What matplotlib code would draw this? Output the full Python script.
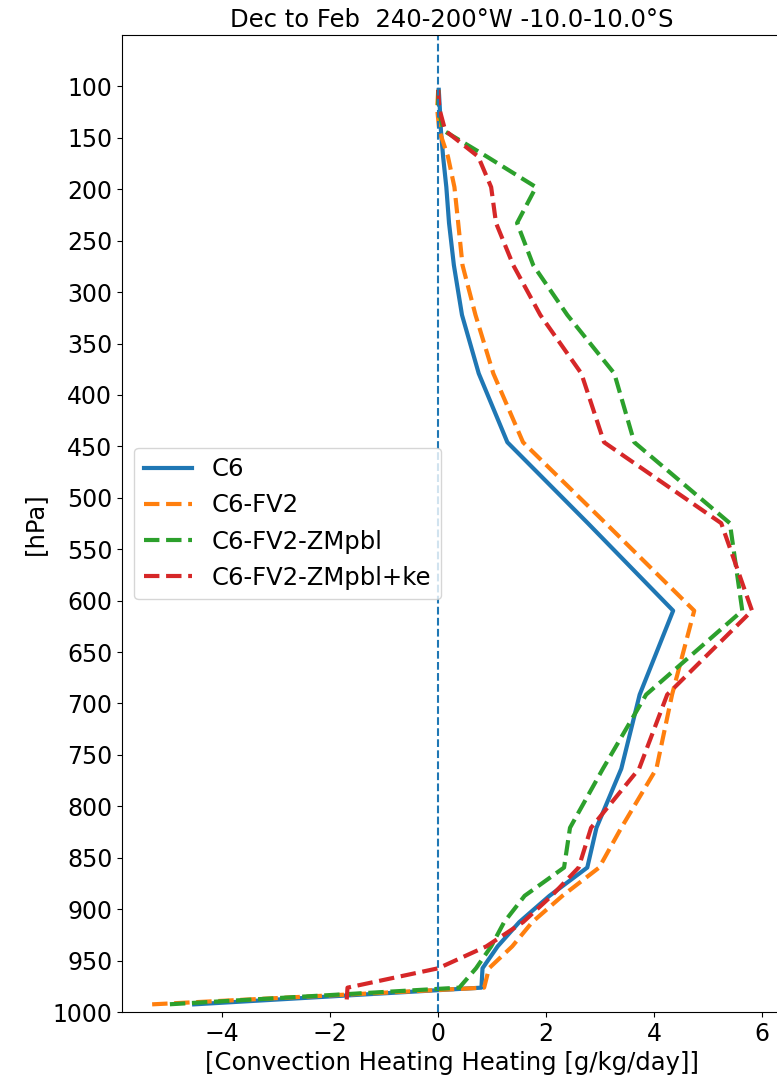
"""Vertical profile of convective heating, DJF, tropical box 240-200W."""

import matplotlib

matplotlib.use("Agg")
import matplotlib.pyplot as plt

# model mid-level pressures [hPa]
lev = [103.32, 121.55, 142.99, 168.23, 197.91, 232.83, 273.91, 322.24,
       379.10, 445.99, 524.69, 609.78, 691.39, 763.40, 820.86, 859.53,
       887.02, 912.64, 936.20, 957.49, 976.33, 992.56]

c6 = [0.01, 0.03, 0.05, 0.09, 0.15, 0.20, 0.29, 0.44,
      0.75, 1.28, 2.77, 4.35, 3.73, 3.39, 2.93, 2.76,
      2.06, 1.50, 1.10, 0.82, 0.80, -4.52]
c6_fv2 = [0.0, -0.02, 0.02, 0.18, 0.30, 0.37, 0.45, 0.69,
          1.02, 1.57, 3.10, 4.74, 4.33, 4.04, 3.39, 2.98,
          2.30, 1.74, 1.37, 0.94, 0.85, -5.30]
c6_fv2_zmpbl = [0.0, 0.0, 0.10, 0.90, 1.81, 1.46, 1.76, 2.39,
                3.26, 3.63, 5.40, 5.63, 3.85, 3.05, 2.44, 2.33,
                1.60, 1.22, 0.98, 0.70, 0.39, -5.00]
c6_fv2_zmpbl_ke = [0.0, 0.02, 0.13, 0.74, 0.98, 1.07, 1.39, 1.89,
                   2.65, 3.07, 5.24, 5.81, 4.24, 3.72, 2.83, 2.60,
                   2.10, 1.57, 0.89, 0.0, -1.68, -1.70]

labels = ["C6", "C6-FV2", "C6-FV2-ZMpbl", "C6-FV2-ZMpbl+ke"]
yticks = list(range(100, 1001, 50))

W, H = 777, 1081
fig = plt.figure(figsize=(W / 100, H / 100), dpi=100)
ax = fig.add_axes([122 / W, (H - 1012) / H, (782 - 122) / W, (1012 - 35) / H])

ax.plot(c6, lev, color="C0", lw=3, label=labels[0])
ax.plot(c6_fv2, lev, color="C1", lw=3, ls="--", label=labels[1])
ax.plot(c6_fv2_zmpbl, lev, color="C2", lw=3, ls="--", label=labels[2])
ax.plot(c6_fv2_zmpbl_ke, lev, color="C3", lw=3, ls="--", label=labels[3])
ax.axvline(0, color="C0", ls="--", lw=1.5)

ax.set_ylim(1000, 50)
ax.set_yticks(yticks)
ax.tick_params(labelsize=17)
ax.set_ylabel("[hPa]", fontsize=17.5)
ax.set_xlabel("[Convection Heating Heating [g/kg/day]]", fontsize=17.5)
ax.set_title("Dec to Feb  240-200°W -10.0-10.0°S", fontsize=17.5)
ax.legend(loc="center left", fontsize=17.5)

fig.savefig("out.png", dpi=100)
